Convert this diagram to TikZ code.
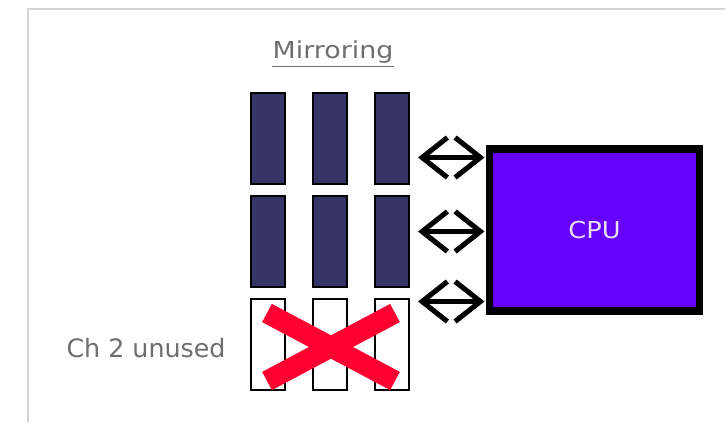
\documentclass[tikz,border=0pt]{standalone}
\usepackage{fontspec}
\setmainfont{DejaVu Sans}
\usetikzlibrary{arrows.meta,calc}
\definecolor{modfill}{HTML}{343466}
\definecolor{cpufill}{HTML}{6600FF}
\definecolor{cputext}{HTML}{E8DCFF}
\definecolor{xred}{HTML}{FF0033}
\definecolor{txtgray}{HTML}{6E6E6E}
\definecolor{framegray}{HTML}{D4D4D4}
\begin{document}
\begin{tikzpicture}[x=0.75pt,y=-0.75pt,
  module/.style={draw=black,line width=1.5pt,fill=modfill,minimum width=25.5pt,minimum height=68.25pt,inner sep=0pt,outer sep=0pt},
  emptymod/.style={module,fill=white},
  cpubox/.style={draw=black,line width=5.6pt,fill=cpufill,minimum width=157.5pt,minimum height=121.5pt,inner sep=0pt,outer sep=0pt,text=cputext,font=\fontsize{17.5}{21}\selectfont},
  label/.style={text=txtgray,inner sep=0pt},
  dblarrow/.style={line width=3.8pt,{Straight Barb[length=19pt,width=30pt,line join=miter]}-{Straight Barb[length=19pt,width=30pt,line join=miter]}},
  cross/.style={xred,line width=15.5pt}
]
\useasboundingbox (0,0) rectangle (725,422);
\draw[framegray,line width=1.5pt] (28,422) -- (28,9) -- (725,9);

% title
\node[label,font=\fontsize{17.5}{21}\selectfont] (title) at (333,52) {\scalebox{1.15}[1]{Mirroring}};
\draw[txtgray,line width=1.2pt] ($(title.south west)+(0,3)$) -- ($(title.south east)+(0,3)$);

% modules
\node[module] (m11) at (268,138.5) {};
\node[module] (m12) at (330,138.5) {};
\node[module] (m13) at (392,138.5) {};
\node[module] (m21) at (268,241.5) {};
\node[module] (m22) at (330,241.5) {};
\node[module] (m23) at (392,241.5) {};
\node[emptymod] (m31) at (268,344.5) {};
\node[emptymod] (m32) at (330,344.5) {};
\node[emptymod] (m33) at (392,344.5) {};

% CPU
\node[cpubox] (cpu) at (594.5,230) {\scalebox{1.1}[1]{CPU}};

% arrows
\draw[dblarrow] ($(m13.east)+(9,19)$) -- ($(cpu.west |- m13.east)+(-5,19)$);
\draw[dblarrow] ($(m23.east)+(9,-10)$) -- ($(cpu.west |- m23.east)+(-5,-10)$);
\draw[dblarrow] ($(m33.east)+(9,-43)$) -- ($(cpu.west |- m33.east)+(-5,-43)$);

% red cross
\draw[cross] ($(m31.north west)+(16,14)$) -- ($(m33.south east)+(-14,-9)$);
\draw[cross] ($(m31.south west)+(16,-9)$) -- ($(m33.north east)+(-14,14)$);

% label
\node[label,font=\fontsize{19}{23}\selectfont] (ch2) at (146,348) {Ch 2 unused};
\end{tikzpicture}
\end{document}
